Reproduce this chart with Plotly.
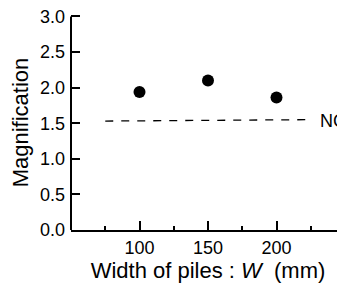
import plotly.graph_objects as go

widths = [100, 150, 200]
magnification = [1.94, 2.10, 1.86]
nc_x = [75, 225]
nc_y = [1.53, 1.55]
nc_label = "NC"
nc_label_x = 231
y_ticks = [0.0, 0.5, 1.0, 1.5, 2.0, 2.5, 3.0]
x_ticks = [100, 150, 200]
x_minor = [75, 125, 175, 225]

FONT = "Arial, Liberation Sans, Helvetica, sans-serif"

fig = go.Figure()
fig.add_trace(go.Scatter(x=nc_x, y=nc_y, mode="lines",
                         line=dict(color="black", width=1.3, dash="8px,8px"),
                         showlegend=False, hoverinfo="skip"))
fig.add_trace(go.Scatter(x=widths, y=magnification, mode="markers",
                         marker=dict(color="black", size=12),
                         showlegend=False))
fig.add_annotation(x=nc_label_x, y=nc_y[-1], text=nc_label, showarrow=False,
                   xanchor="left", yanchor="middle", xshift=-1, yshift=-1,
                   font=dict(family=FONT, size=18, color="black"))

# The page body has an 8px margin, so the figure is drawn 8px in from the
# window's top-left corner; size and margins compensate for that.
fig.update_layout(
    width=337, height=285,
    margin=dict(l=63, r=0, t=7, b=63),
    paper_bgcolor="white", plot_bgcolor="white",
    font=dict(family=FONT, size=18, color="black"),
    xaxis=dict(range=[50, 250], tickvals=x_ticks, ticks="inside", ticklen=9,
               tickwidth=2, tickcolor="black", showline=True, linecolor="black",
               linewidth=2, showgrid=False, zeroline=False, automargin=False,
               ticklabeloverflow="allow",
               minor=dict(tickvals=x_minor, ticks="inside", ticklen=4,
                          tickwidth=2, tickcolor="black"),
               title=dict(text="Width of piles : <i>W</i>  (mm)", standoff=6),
               tickfont=dict(size=18)),
    yaxis=dict(range=[0, 3.02], tickvals=y_ticks, tickformat=".1f",
               ticks="inside", ticklen=9, tickwidth=2, tickcolor="black",
               showline=False, showgrid=False,
               zeroline=False, automargin=False, ticklabelstandoff=5,
               ticklabeloverflow="allow",
               title=dict(text="Magnification", standoff=6),
               tickfont=dict(size=18)),
)
# y-axis spine drawn from 0 to 3.0 only, like the reference
fig.add_shape(type="line", xref="x domain", yref="y", x0=0, x1=0,
              y0=y_ticks[0], y1=y_ticks[-1],
              line=dict(color="black", width=2))
fig.write_html("out.html")
